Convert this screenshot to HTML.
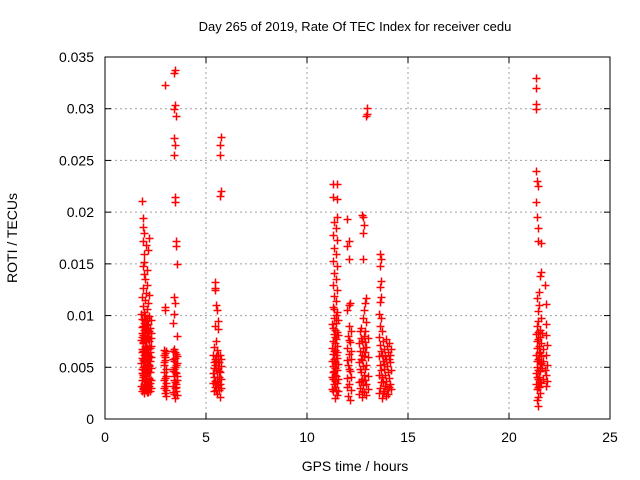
<!DOCTYPE html>
<html><head><meta charset="utf-8"><style>
body{margin:0;background:#fff}
svg{display:block;font-family:"Liberation Sans",sans-serif}
</style></head><body>
<svg id="chart" width="640" height="480" viewBox="0 0 640 480">
<rect width="640" height="480" fill="#fff"/>
<g id="grid"></g><g id="pts"></g><g id="axes"></g>
<text x="355" y="31" font-size="13" text-anchor="middle">Day 265 of 2019, Rate Of TEC Index for receiver cedu</text>
<text x="355" y="471" font-size="14" text-anchor="middle">GPS time / hours</text>
<text x="17" y="238" font-size="14" text-anchor="middle" transform="rotate(-90 17 238)">ROTI / TECUs</text>
</svg>
<script>
const xTicks=[0,5,10,15,20,25];
const yTicks=[0,0.005,0.01,0.015,0.02,0.025,0.03,0.035];
const yTickLabels=["0","0.005","0.01","0.015","0.02","0.025","0.03","0.035"];
const clusterA=[[1.85,.0211],[1.9,.0194],[1.88,.0186],[1.95,.018],[1.9,.0172],[2.2,.0175],[2.05,.0168],[1.92,.016],[2.15,.0163],[1.93,.0152],[1.88,.0148],[2.1,.0144],[1.95,.014],[2.0,.0135],[2.1,.013],[1.9,.0127],[2.05,.0122],[2.2,.012],[1.85,.0118],[2.0,.0115],[2.15,.0112],[1.9,.0109],[2.1,.0106],[1.95,.0103],[2.2,.01],[1.85,.0097],[2.05,.0095],[2.15,.0092],[1.9,.009],[2.0,.0087],[2.2,.0085],[1.85,.0083],[2.1,.008],[1.95,.0078],[2.2,.0075],[1.88,.0073],[2.05,.007],[2.15,.0068],[1.9,.0066],[2.0,.0063],[2.2,.0061],[1.85,.0059],[2.1,.0057],[1.95,.0055],[2.2,.0052],[1.88,.005],[2.05,.0048],[2.15,.0046],[1.9,.0044],[2.0,.0042],[2.2,.004],[1.85,.0038],[2.1,.0036],[1.95,.0034],[2.2,.0032],[1.9,.003],[2.05,.0028],[2.15,.0026],[1.95,.0025],[2.25,.0027],[2.1,.0098],[1.95,.0093],[2.05,.0088],[1.88,.0081],[2.15,.0077],[1.98,.0071],[2.08,.0064],[1.92,.0058],[2.12,.0053],[2.0,.0047],[1.87,.0043],[2.18,.0039],[2.02,.0033],[1.9,.0029]];
const clusterAFill=[[1.8,.0102],[2.3,.0096],[1.82,.0089],[2.28,.0083],[1.8,.0076],[2.3,.0071],[1.82,.0065],[2.28,.006],[1.8,.0054],[2.3,.0049],[1.82,.0044],[2.28,.0038],[1.8,.0032],[2.3,.003],[2.0,.0101],[2.0,.0079],[2.0,.0056],[2.0,.0037],[2.1,.0069],[2.1,.0045],[1.95,.0086],[1.95,.0062],[2.25,.0065],[2.25,.0045],[2.25,.0088],[1.83,.0068],[1.83,.0048],[2.05,.0031],[2.15,.0059],[2.15,.0083],[1.92,.0096],[2.08,.0091],[1.97,.0084],[2.12,.0079],[1.9,.0074],[2.23,.0069],[1.97,.0067],[2.07,.0061],[1.87,.0057],[2.23,.0056],[1.97,.0051],[2.07,.0044],[1.87,.0041],[2.23,.0035],[1.97,.0039],[2.12,.0034],[1.85,.0027],[2.1,.0026],[2.0,.0029],[2.27,.0078],[1.83,.0079],[2.05,.0077],[1.93,.0047],[2.17,.0051]];
const clusterB=[[2.95,.0323],[2.95,.0108],[2.95,.0105],[2.9,.0067],[3.0,.0066],[2.95,.006],[2.9,.0055],[3.0,.0048],[2.9,.0045],[2.95,.004],[3.0,.0035],[2.9,.003],[2.95,.0025],[3.0,.0022],[2.9,.0052],[2.95,.0064],[2.95,.0057],[3.0,.0042],[2.9,.0038],[3.0,.0028],[2.95,.0032],[2.9,.0062]];
const clusterC=[[3.45,.0337],[3.4,.0335],[3.45,.0304],[3.4,.03],[3.5,.0293],[3.4,.0272],[3.45,.0265],[3.4,.0255],[3.45,.0215],[3.45,.021],[3.5,.0172],[3.5,.0167],[3.55,.015],[3.4,.0118],[3.45,.0112],[3.4,.0102],[3.35,.0093],[3.55,.008],[3.4,.0068],[3.5,.0063],[3.35,.0058],[3.55,.0054],[3.45,.005],[3.35,.0046],[3.55,.0042],[3.4,.0038],[3.5,.0034],[3.45,.003],[3.35,.0026],[3.55,.0023],[3.45,.002],[3.4,.0056],[3.5,.0044],[3.45,.0036],[3.35,.0066],[3.55,.0061],[3.4,.0048],[3.5,.0027],[3.35,.0032],[3.55,.0038],[3.45,.0059],[3.4,.0024],[3.45,.0065],[3.5,.0052],[3.4,.0042],[3.5,.0031],[3.45,.0045]];
const clusterD=[[5.75,.0273],[5.7,.0265],[5.7,.0255],[5.75,.022],[5.7,.0216],[5.45,.0132],[5.45,.0127],[5.45,.0125],[5.5,.011],[5.55,.0105],[5.6,.0095],[5.45,.009],[5.6,.0087],[5.5,.0075],[5.4,.007],[5.55,.0067],[5.7,.0062],[5.45,.0058],[5.6,.0055],[5.75,.0051],[5.5,.0047],[5.35,.0044],[5.65,.0041],[5.45,.0037],[5.6,.0033],[5.75,.003],[5.4,.0027],[5.55,.0024],[5.7,.0021],[5.45,.0052],[5.65,.0046],[5.5,.0034],[5.35,.0062],[5.75,.0058],[5.35,.0035],[5.6,.0062],[5.75,.0039],[5.5,.0056],[5.4,.0049],[5.65,.0028],[5.55,.0041],[5.45,.0031],[5.7,.0045],[5.4,.0055],[5.6,.0049],[5.5,.0061],[5.55,.0036],[5.7,.0034],[5.4,.0041],[5.65,.0055],[5.5,.0028]];
const clusterE=[[11.3,.0227],[11.5,.0227],[11.3,.0215],[11.5,.0213],[11.5,.0195],[11.35,.019],[11.45,.0185],[11.3,.0178],[11.5,.0173],[11.35,.0165],[11.45,.016],[11.3,.0153],[11.5,.0148],[11.35,.0141],[11.45,.0135],[11.3,.013],[11.5,.0125],[11.35,.0119],[11.45,.0114],[11.3,.0108],[11.5,.0103],[11.35,.0098],[11.45,.0093],[11.3,.0088],[11.5,.0084],[11.4,.0079],[11.3,.0075],[11.5,.0071],[11.4,.0067],[11.3,.0063],[11.5,.0059],[11.4,.0055],[11.3,.0051],[11.5,.0047],[11.4,.0043],[11.3,.0039],[11.5,.0035],[11.4,.0031],[11.3,.0027],[11.5,.0023],[11.4,.002],[11.45,.0062],[11.35,.0046],[11.55,.0081],[11.25,.0069],[11.25,.0092],[11.55,.0096],[11.25,.0056],[11.55,.0053],[11.25,.0041],[11.55,.0039],[11.25,.0029],[11.55,.0027],[11.4,.0086],[11.4,.0073],[11.4,.0049],[11.4,.0037],[11.35,.0106],[11.45,.0101],[11.35,.0082],[11.45,.0077],[11.35,.0066],[11.45,.0053],[11.35,.0058],[11.45,.0042],[11.35,.0034],[11.45,.0028],[11.3,.0045],[11.5,.0065]];
const clusterF=[[12.0,.0193],[12.1,.0172],[12.0,.0167],[12.1,.0155],[12.15,.0112],[12.1,.011],[12.0,.0105],[12.1,.009],[12.2,.0085],[12.05,.008],[12.15,.0074],[12.0,.0069],[12.1,.0063],[12.2,.0058],[12.05,.0052],[12.15,.0046],[12.0,.004],[12.1,.0034],[12.2,.0028],[12.05,.0022],[12.15,.0018],[12.0,.0057],[12.2,.0066],[12.0,.0031],[12.2,.0041],[12.1,.0048],[12.1,.0076]];
const clusterG=[[12.95,.0301],[12.95,.0295],[12.9,.0293],[12.7,.0197],[12.75,.0195],[12.8,.0188],[12.75,.018],[12.75,.0155],[12.9,.0117],[12.85,.0112],[12.8,.0105],[12.75,.0098],[12.9,.0094],[12.6,.0085],[12.8,.008],[12.7,.0075],[12.9,.007],[12.6,.0066],[12.8,.0061],[12.7,.0057],[12.9,.0052],[12.6,.0048],[12.8,.0043],[12.7,.0039],[12.9,.0034],[12.6,.003],[12.8,.0026],[12.7,.0021],[12.85,.0065],[12.65,.0045],[12.55,.0073],[13.0,.0078],[12.55,.0055],[13.0,.006],[12.55,.0036],[13.0,.0042],[12.55,.0024],[13.0,.0029],[12.75,.0069],[12.75,.0051],[12.75,.0033],[12.65,.0088],[12.85,.0085],[12.7,.0062],[12.65,.0078],[12.85,.0074],[12.65,.0058],[12.85,.0048],[12.65,.0037],[12.85,.0038],[12.7,.0027],[12.9,.0023]];
const clusterH=[[13.6,.016],[13.65,.0155],[13.6,.0148],[13.65,.0133],[13.6,.0128],[13.65,.0118],[13.6,.0113],[13.55,.0102],[13.65,.0098],[13.6,.009],[13.7,.0085],[13.9,.0077],[14.05,.0073],[13.6,.0072],[13.8,.0068],[14.0,.0065],[13.7,.0062],[13.9,.0058],[14.1,.0055],[13.6,.0052],[13.8,.0048],[14.0,.0045],[13.7,.0041],[13.9,.0037],[14.1,.0034],[13.6,.003],[13.8,.0027],[14.0,.0024],[13.7,.002],[13.85,.0032],[14.05,.004],[13.75,.0056],[13.55,.0079],[13.55,.0061],[13.55,.0043],[13.55,.0025],[14.15,.0068],[14.15,.0047],[14.15,.0029],[13.95,.0071],[13.95,.0051],[13.95,.0029],[13.75,.0075],[13.75,.0036],[13.65,.0066],[13.85,.0061],[14.05,.0058],[13.65,.0047],[13.85,.0043],[14.05,.0031],[13.65,.0036],[13.75,.0025],[13.9,.0022],[14.1,.0062],[13.8,.0053]];
const clusterI=[[21.35,.033],[21.35,.032],[21.35,.0305],[21.35,.03],[21.35,.024],[21.4,.023],[21.45,.0225],[21.35,.021],[21.4,.0195],[21.45,.0185],[21.45,.0172],[21.6,.017],[21.6,.0142],[21.55,.0138],[21.5,.0123],[21.8,.013],[21.4,.0117],[21.5,.011],[21.85,.0111],[21.45,.0104],[21.6,.0098],[21.85,.0092],[21.4,.009],[21.55,.0086],[21.85,.0081],[21.45,.0077],[21.6,.0073],[21.4,.0069],[21.55,.0065],[21.85,.0062],[21.45,.0058],[21.6,.0054],[21.4,.005],[21.55,.0046],[21.85,.0043],[21.45,.0039],[21.6,.0035],[21.85,.0032],[21.4,.0029],[21.55,.0025],[21.45,.0021],[21.4,.0018],[21.45,.0013],[21.5,.0056],[21.5,.0041],[21.7,.0068],[21.35,.0082],[21.35,.0062],[21.35,.0044],[21.35,.0034],[21.5,.0071],[21.5,.0031],[21.65,.0049],[21.65,.0083],[21.9,.0072],[21.9,.0052],[21.9,.0037],[21.45,.0095],[21.6,.0061],[21.7,.0039],[21.4,.0075],[21.55,.0079],[21.4,.0056],[21.55,.0053],[21.4,.0041],[21.55,.0036],[21.45,.0047],[21.5,.0064],[21.45,.0084],[21.7,.0056],[21.8,.0047],[21.45,.0031]];
const clusters=[clusterA,clusterAFill,clusterB,clusterC,clusterD,clusterE,clusterF,clusterG,clusterH,clusterI];

const L=105,R=610,T=57,B=419,xMax=25,yMax=0.035;
const xs=v=>L+v/xMax*(R-L);
const ys=v=>B-v/yMax*(B-T);
const NS="http://www.w3.org/2000/svg";
function mk(parent,tag,attrs){const e=document.createElementNS(NS,tag);for(const k in attrs)e.setAttribute(k,attrs[k]);parent.appendChild(e);return e;}
const grid=document.getElementById('grid'),axes=document.getElementById('axes'),pts=document.getElementById('pts');
xTicks.forEach((t,i)=>{
  const x=xs(t);
  if(t>0&&t<xMax){const g=mk(grid,'line',{x1:x,x2:x,y1:T,y2:B,stroke:'#a0a0a0','stroke-dasharray':'2,3'});
  
  }
  mk(axes,'line',{x1:x,x2:x,y1:B,y2:B-6,stroke:'#000'});
  mk(axes,'line',{x1:x,x2:x,y1:T,y2:T+6,stroke:'#000'});
  const lb=mk(axes,'text',{x:x,y:B+23,'font-size':14,'text-anchor':'middle'});lb.textContent=t;
  
  
});
yTicks.forEach((t,i)=>{
  const y=ys(t);
  if(t>0&&t<yMax){const g=mk(grid,'line',{x1:L,x2:R,y1:y,y2:y,stroke:'#a0a0a0','stroke-dasharray':'2,3'});
  
  }
  mk(axes,'line',{x1:L,x2:L+6,y1:y,y2:y,stroke:'#000'});
  mk(axes,'line',{x1:R,x2:R-6,y1:y,y2:y,stroke:'#000'});
  const lb=mk(axes,'text',{x:L-11,y:y+5,'font-size':14,'text-anchor':'end'});lb.textContent=yTickLabels[i];
  
  
});
const frame=mk(axes,'rect',{x:L,y:T,width:R-L,height:B-T,fill:'none',stroke:'#000'});


clusters.forEach(c=>c.forEach(p=>{
  const x=Math.round(xs(p[0]))+0.5,y=Math.round(ys(p[1]))+0.5;
  const m=mk(pts,'path',{d:`M${x-4} ${y}H${x+4}M${x} ${y-4}V${y+4}`,stroke:'#ff0000','stroke-width':1.5,fill:'none'});
  
  
}));
</script>
</body></html>
